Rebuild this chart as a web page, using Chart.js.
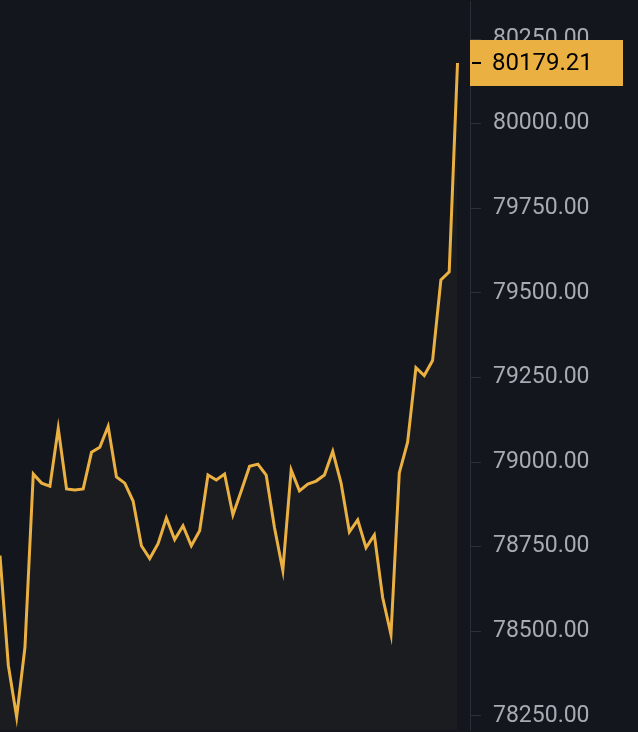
<!DOCTYPE html>
<html>
<head>
<meta charset="utf-8">
<script src="https://cdn.jsdelivr.net/npm/chart.js@4"></script>
<style>
  html, body { margin: 0; padding: 0; background: #13161d; overflow: hidden; }
  #wrap { width: 638px; height: 780px; margin-top: -24px; }
</style>
</head>
<body>
<div id="wrap"><canvas id="priceChart"></canvas></div>
<script>
const prices = [78724, 78400, 78247, 78453, 78965, 78938, 78929, 79100, 78921, 78918,
  78921, 79029, 79044, 79106, 78956, 78938, 78885, 78753, 78715, 78759,
  78835, 78771, 78812, 78753, 78797, 78962, 78947, 78965, 78844, 78915,
  78988, 78994, 78962, 78806, 78680, 78977, 78915, 78935, 78944, 78962,
  79032, 78938, 78794, 78829, 78747, 78785, 78600, 78491, 78968, 79059,
  79279, 79256, 79300, 79538, 79562, 80179.21];
const tickValues = [78250, 78500, 78750, 79000, 79250, 79500, 79750, 80000, 80250];
const lastPrice = prices[prices.length - 1];

// etiqueta do último preço no eixo
const lastPriceTag = {
  id: 'lastPriceTag',
  afterDraw(chart) {
    const y = chart.scales.y;
    const ctx = chart.ctx;
    const py = y.getPixelForValue(lastPrice);
    ctx.save();
    ctx.fillStyle = '#ebb042';
    ctx.fillRect(y.left, py - 23, 153, 46);
    ctx.fillStyle = '#000';
    ctx.fillRect(y.left + 2, py - 1, 9, 2);
    ctx.font = '24px Roboto';
    ctx.textBaseline = 'middle';
    ctx.fillText(lastPrice.toFixed(2), y.left + 22, py + 1);
    ctx.restore();
  }
};

new Chart(document.getElementById('priceChart'), {
  type: 'line',
  data: {
    labels: prices.map((_, i) => i),
    datasets: [{
      data: prices.map((p, i) => ({ x: i, y: p })),
      borderColor: '#ebb042',
      backgroundColor: '#1b1c20',
      borderWidth: 3,
      fill: 'start',
      pointRadius: 0,
      tension: 0
    }]
  },
  options: {
    responsive: true,
    maintainAspectRatio: false,
    animation: false,
    layout: { padding: 0 },
    plugins: { legend: { display: false }, tooltip: { enabled: false } },
    scales: {
      x: {
        type: 'linear',
        min: 0,
        max: 56.5,
        display: false
      },
      y: {
        position: 'right',
        min: 78208,
        max: 80360,
        afterBuildTicks: s => { s.ticks = tickValues.map(v => ({ value: v })); },
        afterFit: s => { s.width = 168; },
        border: { color: '#2b2f38', width: 1 },
        grid: { drawOnChartArea: false, tickLength: 11, color: '#2b2f38' },
        ticks: {
          color: '#a7abb2',
          padding: 12,
          font: { family: 'Roboto', size: 23 },
          callback: v => v.toFixed(2)
        }
      }
    }
  },
  plugins: [lastPriceTag]
});
</script>
</body>
</html>
